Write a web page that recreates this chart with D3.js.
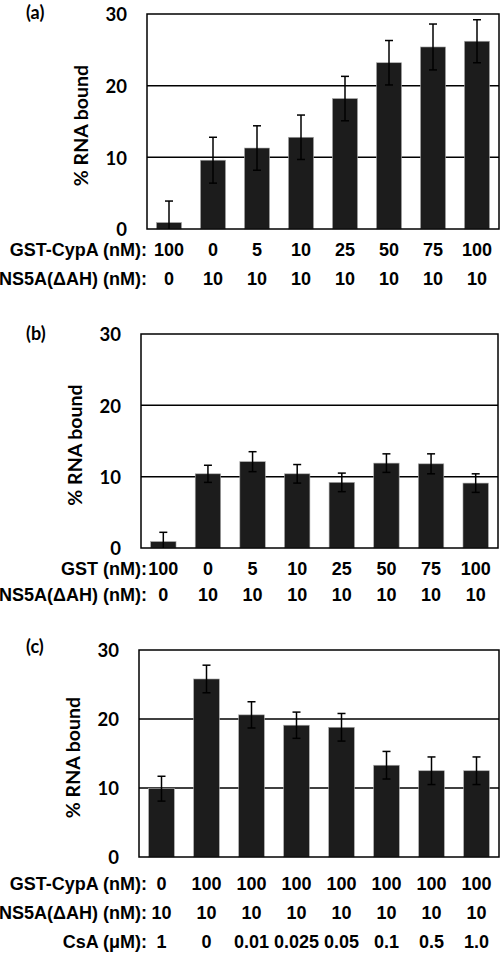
<!DOCTYPE html>
<html><head><meta charset="utf-8">
<script src="https://cdn.jsdelivr.net/npm/d3@7"></script>
<style>body{margin:0;background:#fff}svg{display:block}</style>
</head><body>
<svg id="c" width="500" height="953"></svg>
<script>
const yTicks = [0, 10, 20, 30];

const panelLabels = ["(a)", "(b)", "(c)"];

const rowNamesA = ["GST-CypA (nM):", "NS5A(\u0394AH) (nM):"];
const rowA1 = ["100", "0", "5", "10", "25", "50", "75", "100"];
const rowA2 = ["0", "10", "10", "10", "10", "10", "10", "10"];
const valuesA = [0.9, 9.6, 11.3, 12.8, 18.2, 23.2, 25.4, 26.2];
const errorsA = [3.0, 3.2, 3.1, 3.1, 3.1, 3.1, 3.2, 3.0];

const rowNamesB = ["GST (nM):", "NS5A(\u0394AH) (nM):"];
const rowB1 = ["100", "0", "5", "10", "25", "50", "75", "100"];
const rowB2 = ["0", "10", "10", "10", "10", "10", "10", "10"];
const valuesB = [0.9, 10.4, 12.1, 10.4, 9.2, 11.9, 11.8, 9.1];
const errorsB = [1.3, 1.2, 1.4, 1.3, 1.3, 1.3, 1.4, 1.3];

const rowNamesC = ["GST-CypA (nM):", "NS5A(\u0394AH) (nM):", "CsA (\u03bcM):"];
const rowC1 = ["0", "100", "100", "100", "100", "100", "100", "100"];
const rowC2 = ["10", "10", "10", "10", "10", "10", "10", "10"];
const rowC3 = ["1", "0", "0.01", "0.025", "0.05", "0.1", "0.5", "1.0"];
const valuesC = [9.9, 25.8, 20.6, 19.1, 18.8, 13.3, 12.5, 12.5];
const errorsC = [1.8, 2.0, 1.9, 1.9, 2.0, 2.0, 2.0, 2.0];

const svg = d3.select("#c");
const calibri = "Lato, 'Open Sans', sans-serif";
const arial = "'Liberation Sans', Arial, sans-serif";

const panels = [
  {label: panelLabels[0], vals: valuesA, errs: errorsA, rowNames: rowNamesA, rows: [rowA1, rowA2],
   box: {l: 147, r: 499, t: 14, b: 229}, labelY: 19, rowY: [256, 285]},
  {label: panelLabels[1], vals: valuesB, errs: errorsB, rowNames: rowNamesB, rows: [rowB1, rowB2],
   box: {l: 141, r: 498, t: 334, b: 548}, labelY: 340, rowY: [575, 601]},
  {label: panelLabels[2], vals: valuesC, errs: errorsC, rowNames: rowNamesC, rows: [rowC1, rowC2, rowC3],
   box: {l: 139, r: 499, t: 650, b: 857}, labelY: 653, rowY: [890, 919, 948]}
];

panels.forEach(p => {
  const g = svg.append("g");
  const idx = d3.range(p.vals.length);
  const x = d3.scaleBand().domain(idx).range([p.box.l, p.box.r]).paddingInner(0.43).paddingOuter(0.215);
  const y = d3.scaleLinear().domain([0, 30]).range([p.box.b, p.box.t]);

  // gridlines
  g.selectAll("line.grid").data(yTicks.filter(t => t > 0 && t < 30)).join("line")
    .attr("x1", p.box.l).attr("x2", p.box.r)
    .attr("y1", d => y(d)).attr("y2", d => y(d))
    .attr("stroke", "#000").attr("stroke-width", 1.5);

  // bars
  g.selectAll("rect.bar").data(idx).join("rect")
    .attr("x", i => x(i)).attr("width", x.bandwidth())
    .attr("y", i => y(p.vals[i])).attr("height", i => y(0) - y(p.vals[i]))
    .attr("fill", "#1c1c1c").attr("stroke", "#aaa").attr("stroke-width", 0.6);

  // error bars
  const cx = i => x(i) + x.bandwidth() / 2;
  const eb = g.selectAll("g.err").data(idx).join("g");
  eb.append("line").attr("x1", cx).attr("x2", cx)
    .attr("y1", i => y(Math.max(0, p.vals[i] - p.errs[i]))).attr("y2", i => y(p.vals[i] + p.errs[i]))
    .attr("stroke", "#000").attr("stroke-width", 1.5);
  eb.append("line").attr("x1", i => cx(i) - 4).attr("x2", i => cx(i) + 4)
    .attr("y1", i => y(p.vals[i] + p.errs[i])).attr("y2", i => y(p.vals[i] + p.errs[i]))
    .attr("stroke", "#000").attr("stroke-width", 1.5);
  eb.filter(i => p.vals[i] - p.errs[i] > 0).append("line").attr("x1", i => cx(i) - 4).attr("x2", i => cx(i) + 4)
    .attr("y1", i => y(p.vals[i] - p.errs[i])).attr("y2", i => y(p.vals[i] - p.errs[i]))
    .attr("stroke", "#000").attr("stroke-width", 1.5);

  // frame
  g.append("rect").attr("x", p.box.l).attr("y", p.box.t)
    .attr("width", p.box.r - p.box.l).attr("height", p.box.b - p.box.t)
    .attr("fill", "none").attr("stroke", "#000").attr("stroke-width", 1.5);

  // y axis tick labels
  const yAxis = d3.axisLeft(y).tickValues(yTicks).tickSize(0).tickPadding(20);
  const ax = g.append("g").attr("transform", `translate(${p.box.l},0)`).call(yAxis);
  ax.select(".domain").remove();
  ax.selectAll("text").attr("font-family", calibri).attr("font-weight", "bold")
    .attr("font-size", 18.5).attr("fill", "#000").attr("dy", "0.36em");

  // y label
  g.append("text")
    .attr("transform", `translate(${p.box.l - 59},${(p.box.t + p.box.b) / 2 + 4}) rotate(-90)`)
    .attr("text-anchor", "middle").attr("font-family", calibri).attr("font-weight", "bold")
    .attr("font-size", 19.5).text("% RNA bound");

  // panel label
  g.append("text").attr("x", 26).attr("y", p.labelY)
    .attr("font-family", calibri).attr("font-weight", "bold").attr("font-size", 18).text(p.label);

  // category rows
  p.rows.forEach((row, r) => {
    g.append("text").attr("x", 147).attr("y", p.rowY[r]).attr("text-anchor", "end")
      .attr("font-family", arial).attr("font-weight", "bold").attr("font-size", 18)
      .text(p.rowNames[r]);
    g.selectAll(null).data(idx).join("text")
      .attr("x", i => cx(i)).attr("y", p.rowY[r]).attr("text-anchor", "middle")
      .attr("font-family", arial).attr("font-weight", "bold").attr("font-size", 18)
      .text(i => row[i]);
  });
});
</script>
</body></html>
